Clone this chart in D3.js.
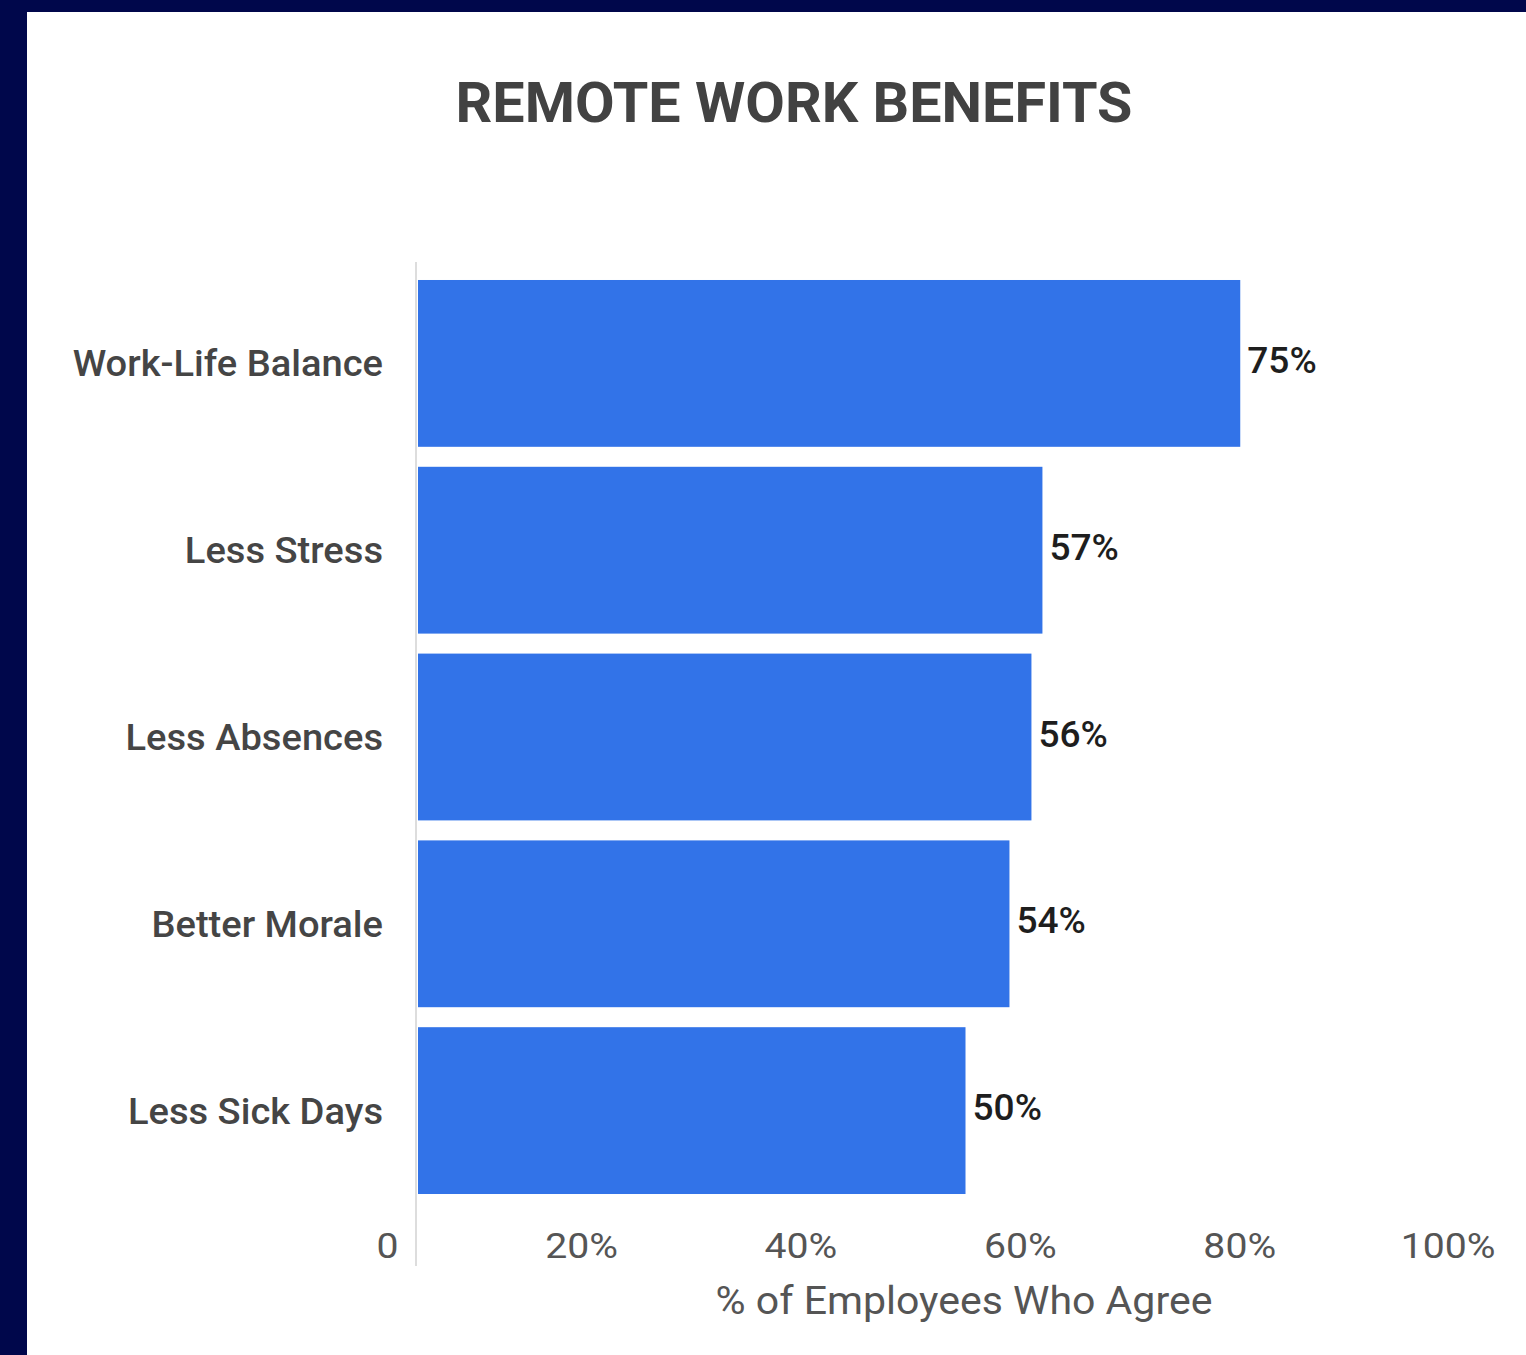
<!DOCTYPE html>
<html>
<head>
<meta charset="utf-8">
<script src="https://cdn.jsdelivr.net/npm/d3@7"></script>
<style>
  html, body { margin: 0; padding: 0; background: #00074b; }
  svg { display: block; }
</style>
</head>
<body>
<svg id="chart"></svg>
<script>
"use strict";

// Remote work survey
let categories = ["Work-Life Balance", "Less Stress", "Less Absences", "Better Morale", "Less Sick Days"];
let values = [75, 57, 56, 54, 50];
let tickValues = [0, 20, 40, 60, 80, 100];
let tickLabels = ["0", "20%", "40%", "60%", "80%", "100%"];

let W = 1526, H = 1355;

let svg = d3.select("#chart")
  .attr("width", W)
  .attr("height", H);

// source text looks a little stretched sideways, so scale x around the anchor
let placeText = (sel, x, y, sx) => sel.attr("transform", `translate(${x},${y}) scale(${sx},1)`);

// white card inside the navy frame
svg.append("rect")
  .attr("x", 27).attr("y", 12)
  .attr("width", W - 27).attr("height", H - 12)
  .attr("fill", "#ffffff");

svg.append("text")
  .call(placeText, 794, 122, 1.045)
  .attr("text-anchor", "middle")
  .attr("font-family", "Roboto, sans-serif")
  .attr("font-weight", 700)
  .attr("font-size", 55)
  .attr("fill", "#424242")
  .text("REMOTE WORK BENEFITS");

let x = d3.scaleLinear().domain([0, 100]).range([416, 1515]);
// the tick labels in the source sit on their own even spacing
let xTicks = d3.scaleLinear().domain([0, 100]).range([398, 1495]);
let y = d3.scaleBand()
  .domain(categories)
  .range([270, 1204])
  .paddingInner(0.107)
  .paddingOuter(0.0535);

svg.append("line")
  .attr("x1", x(0)).attr("x2", x(0))
  .attr("y1", 262).attr("y2", 1266)
  .attr("stroke", "#dddddd")
  .attr("stroke-width", 2);

svg.selectAll("rect.bar")
  .data(values)
  .enter()
  .append("rect")
  .attr("class", "bar")
  .attr("x", x(0) + 2)
  .attr("y", (d, i) => y(categories[i]))
  .attr("width", (d) => x(d) - x(0) - 2)
  .attr("height", y.bandwidth())
  .attr("fill", "#3273e8");

svg.selectAll("text.cat")
  .data(categories)
  .enter()
  .append("text")
  .attr("class", "cat")
  .each(function (d) {
    placeText(d3.select(this), 383, y(d) + y.bandwidth() / 2, 1.03);
  })
  .attr("dy", "0.35em")
  .attr("text-anchor", "end")
  .attr("font-family", "Roboto, sans-serif")
  .attr("font-weight", 500)
  .attr("font-size", 37)
  .attr("fill", "#454545")
  .text((d) => d);

svg.selectAll("text.val")
  .data(values)
  .enter()
  .append("text")
  .attr("class", "val")
  .each(function (d, i) {
    placeText(d3.select(this), x(d) + 7, y(categories[i]) + y.bandwidth() / 2 - 3, 1.03);
  })
  .attr("dy", "0.35em")
  .attr("font-family", "Roboto, sans-serif")
  .attr("font-weight", 500)
  .attr("font-size", 36)
  .attr("fill", "#1e1e1e")
  .text((d) => d + "%");

let xAxis = d3.axisBottom(xTicks)
  .tickValues(tickValues)
  .tickSize(0)
  .tickFormat((d, i) => tickLabels[i]);

let gx = svg.append("g")
  .attr("transform", "translate(0,1230)")
  .call(xAxis);
gx.select(".domain").remove();
gx.selectAll("text")
  .attr("transform", "scale(1.12,1)")
  .attr("text-anchor", "end")
  .attr("font-family", "Roboto, sans-serif")
  .attr("font-size", 35)
  .attr("fill", "#555555");

svg.append("text")
  .call(placeText, 964, 1314, 1.08)
  .attr("text-anchor", "middle")
  .attr("font-family", "Roboto, sans-serif")
  .attr("font-size", 38)
  .attr("fill", "#555555")
  .text("% of Employees Who Agree");
</script>
</body>
</html>
